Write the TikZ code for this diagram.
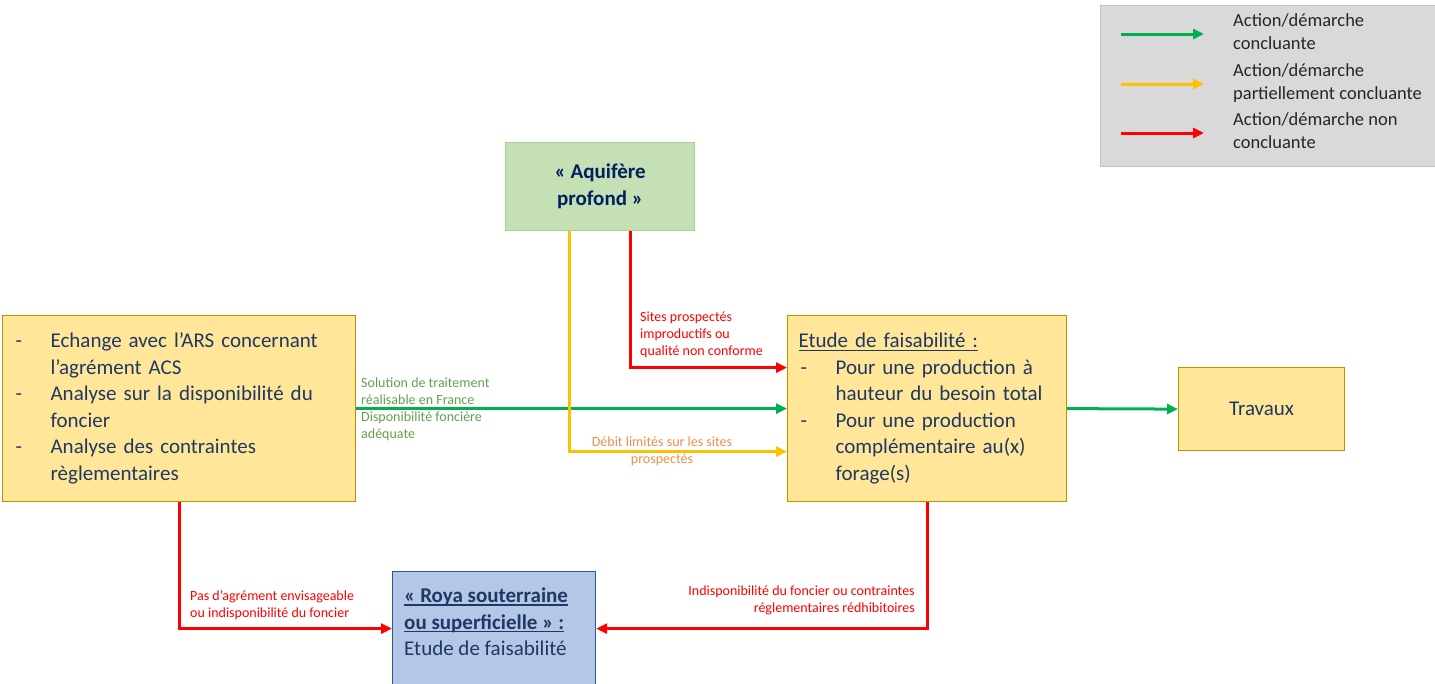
\documentclass[tikz,border=0pt]{standalone}
\usepackage{fontspec}
\setmainfont{Carlito}
\usetikzlibrary{arrows.meta,calc}
\definecolor{boxyellow}{HTML}{FFE699}
\definecolor{boxgold}{HTML}{BF9000}
\definecolor{boxgreen}{HTML}{C5E0B4}
\definecolor{boxgreenb}{HTML}{A9D18E}
\definecolor{boxblue}{HTML}{B4C7E7}
\definecolor{boxblueb}{HTML}{2F5597}
\definecolor{navy}{HTML}{1F3864}
\definecolor{darknavy}{HTML}{002060}
\definecolor{legfill}{HTML}{D9D9D9}
\definecolor{legborder}{HTML}{BFBFBF}
\definecolor{okgreen}{HTML}{00B050}
\definecolor{partyellow}{HTML}{FFC000}
\definecolor{nokred}{HTML}{FF0000}
\definecolor{lblgreen}{HTML}{62A04C}
\definecolor{lblorange}{HTML}{EE8E4A}
\tikzset{
  conn/.style={line width=3pt,-{Triangle[length=11pt,width=10pt]}},
  goodarrow/.style={conn,draw=okgreen},
  partarrow/.style={conn,draw=partyellow},
  badarrow/.style={conn,draw=nokred},
  bigbox/.style={draw=boxgold,line width=1.2pt,fill=boxyellow,anchor=north west,inner sep=0pt,text=navy,
    font=\fontsize{21}{26.5}\selectfont},
  lbl/.style={inner sep=0pt,font=\fontsize{14}{17}\selectfont},
  legtext/.style={inner sep=0pt,anchor=west,align=left,text=black!85,font=\fontsize{18.5}{23}\selectfont},
}
\newcommand{\dashitem}[1]{\makebox[35pt][l]{-}#1}
\newcommand{\contitem}[1]{\hspace*{35pt}#1}
\newcommand{\myul}[2][1.2pt]{\setbox0\hbox{#2}\rlap{\rule[-3pt]{\wd0}{#1}}\box0}
\begin{document}
\begin{tikzpicture}[x=1pt,y=-1pt]
\useasboundingbox (0,0) rectangle (1435,683);
\clip (0,0) rectangle (1435,683);
% legend
\node[draw=legborder,line width=1.2pt,fill=legfill,anchor=north west,minimum width=335pt,minimum height=161pt,inner sep=0pt] (legend) at (1100,5) {};
\coordinate (g1) at (1121,34); \coordinate (g2) at (1204,34);
\coordinate (y1) at (1121,84); \coordinate (y2) at (1204,84);
\coordinate (r1) at (1121,133); \coordinate (r2) at (1204,133);
\draw[goodarrow] (g1) -- (g2);
\draw[partarrow] (y1) -- (y2);
\draw[badarrow] (r1) -- (r2);
\node[legtext] (lt1) at (1233,31.5) {Action/démarche\\concluante};
\node[legtext] (lt2) at (1233,83.5) {Action/démarche\\partiellement concluante};
\node[legtext] (lt3) at (1233,130.5) {Action/démarche non\\concluante};
% boxes
\node[draw=boxgreenb,line width=1.2pt,fill=boxgreen,anchor=north west,minimum width=189pt,minimum height=88pt,inner sep=0pt,
  align=center,text=darknavy,font=\bfseries\fontsize{21}{27}\selectfont] (aq) at (505,142) {« Aquifère\\profond »};
\node[bigbox,minimum width=353pt,minimum height=186pt,text width=327pt,align=left,inner xsep=13pt] (left) at (2,315)
  {\dashitem{Echange avec l’ARS concernant}\\
   \contitem{l’agrément ACS}\\
   \dashitem{Analyse sur la disponibilité du}\\
   \contitem{foncier}\\
   \dashitem{Analyse des contraintes}\\
   \contitem{règlementaires}};
\node[bigbox,minimum width=279pt,minimum height=186pt,text width=257pt,align=left,inner xsep=11pt] (etude) at (787,315)
  {\myul[1pt]{Etude de faisabilité :}\\
   \makebox[2pt][l]{}\dashitem{Pour une production à}\\
   \makebox[2pt][l]{}\contitem{hauteur du besoin total}\\
   \makebox[2pt][l]{}\dashitem{Pour une production}\\
   \makebox[2pt][l]{}\contitem{complémentaire au(x)}\\
   \makebox[2pt][l]{}\contitem{forage(s)}};
\node[bigbox,minimum width=166pt,minimum height=83pt,align=center] (trav) at (1178,367) {Travaux};
\node[draw=boxblueb,line width=1.2pt,fill=boxblue,anchor=north west,minimum width=203pt,minimum height=114pt,inner sep=0pt] (roya) at (392,571) {};
\node[anchor=north west,inner sep=0pt,align=left,text=navy,font=\fontsize{21}{26.5}\selectfont] (royatxt) at (404,588)
  {\myul[1.6pt]{\bfseries « Roya souterraine}\\\myul[1.6pt]{\bfseries ou superficielle » :}\\Etude de faisabilité};
% connectors
\draw[goodarrow] (left.east) -- (etude.west);
\draw[goodarrow] (etude.east) -- (trav.west);
\draw[badarrow] ([xshift=125pt]aq.south west) |- ([yshift=41pt]etude.west);
\draw[partarrow] ([xshift=64pt]aq.south west) |- ([yshift=-43pt]etude.west);
\draw[badarrow] ([xshift=177pt]left.south west) |- (roya.west);
\draw[badarrow] ([xshift=140pt]etude.south west) |- (roya.east);
% labels
\node[lbl,anchor=west,align=left,text=lblgreen] (lg) at (361,409) {Solution de traitement\\réalisable en France\\Disponibilité foncière\\adéquate};
\node[lbl,anchor=west,align=left,text=nokred] (lr1) at (640,335) {Sites prospectés\\improductifs ou\\qualité non conforme};
\node[lbl,align=center,text=lblorange] (ly) at (662,451.5) {Débit limités sur les sites\\prospectés};
\node[lbl,anchor=west,align=left,text=nokred] (lr2) at (190,605.5) {Pas d’agrément envisageable\\ou indisponibilité\ du foncier};
\node[lbl,anchor=east,align=right,text=nokred] (lr3) at (915,600.5) {Indisponibilité du foncier ou contraintes\\réglementaires rédhibitoires};
\end{tikzpicture}
\end{document}
